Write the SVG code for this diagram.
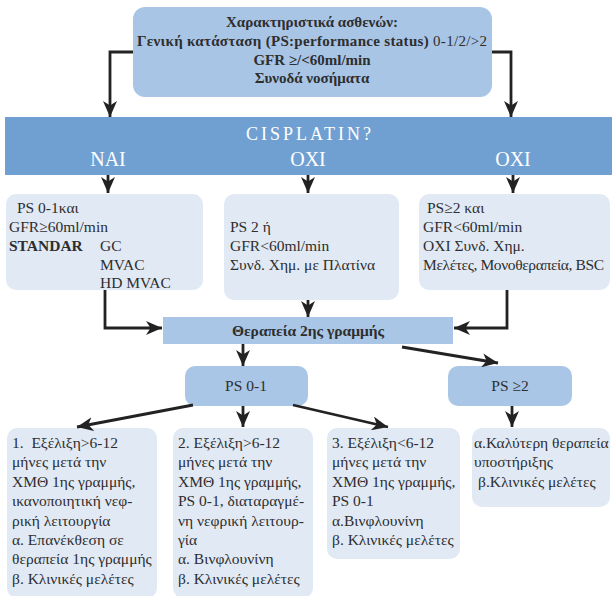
<svg xmlns="http://www.w3.org/2000/svg" width="612" height="596" viewBox="0 0 612 596">
<style>
.t{font-family:"Liberation Serif","DejaVu Serif",serif;font-size:15.5px;fill:#2e2e2e}
.h{font-size:15px}
.b{font-weight:bold}
.top{fill:#a9c5e6}
.lt{fill:#e1e9f5}
.md{fill:#a9c6e6}
.w{font-family:"Liberation Serif","DejaVu Serif",serif;fill:#ffffff}
.c{fill:none;stroke:#222;stroke-width:2.8;marker-end:url(#ah)}
</style>
<defs>
<marker id="ah" markerUnits="userSpaceOnUse" markerWidth="18" markerHeight="14" refX="16" refY="7" orient="auto">
<path d="M0,0 L16,7 L0,14 L4.5,7 z" fill="#222"/>
</marker>
</defs>
<g id="characteristics">
<rect class="top" x="133" y="7" width="359" height="90" rx="12"/>
<text class="t h b" x="312" y="27" text-anchor="middle">Χαρακτηριστικά ασθενών:</text>
<text class="t h" x="312" y="46" text-anchor="middle" textLength="350"><tspan class="b">Γενική κατάσταση (PS:performance status)</tspan> 0-1/2/&gt;2</text>
<text class="t h b" x="312" y="65" text-anchor="middle">GFR ≥/&lt;60ml/min</text>
<text class="t h b" x="312" y="83" text-anchor="middle">Συνοδά νοσήματα</text>
</g>
<g id="cisplatin">
<rect x="5" y="117" width="607" height="58" fill="#70a0d2"/>
<text class="w" x="310" y="140" text-anchor="middle" font-size="18" letter-spacing="3">CISPLATIN?</text>
<text class="w" x="108" y="166" text-anchor="middle" font-size="20">NAI</text>
<text class="w" x="308" y="166" text-anchor="middle" font-size="20">OXI</text>
<text class="w" x="513" y="166" text-anchor="middle" font-size="20">OXI</text>
</g>
<g id="box-nai">
<rect class="lt" x="6" y="194" width="197" height="96" rx="10"/>
<text class="t" x="17" y="213">PS 0-1και</text>
<text class="t" x="9" y="232">GFR≥60ml/min</text>
<text class="t b" x="9" y="251">STANDAR</text>
<text class="t" x="100" y="251">GC</text>
<text class="t" x="100" y="270">MVAC</text>
<text class="t" x="100" y="288">HD MVAC</text>
</g>
<g id="box-oxi1">
<rect class="lt" x="224" y="194" width="175" height="106" rx="10"/>
<text class="t" x="230" y="232">PS 2 ή</text>
<text class="t" x="230" y="251">GFR&lt;60ml/min</text>
<text class="t" x="230" y="270">Συνδ. Χημ. με Πλατίνα</text>
</g>
<g id="box-oxi2">
<rect class="lt" x="419" y="194" width="191" height="96" rx="10"/>
<text class="t" x="427" y="213">PS≥2 και</text>
<text class="t" x="423" y="232">GFR&lt;60ml/min</text>
<text class="t" x="423" y="251">ΟΧΙ Συνδ. Χημ.</text>
<text class="t" x="423" y="270" textLength="181">Μελέτες, Μονοθεραπεία, BSC</text>
</g>
<g id="second-line">
<rect class="md" x="163" y="317" width="290" height="27"/>
<text class="t b" x="308" y="336" text-anchor="middle" font-size="14.5">Θεραπεία 2ης γραμμής</text>
</g>
<g id="ps01">
<rect class="md" x="185" y="366" width="123" height="40" rx="10"/>
<text class="t" x="246" y="391" text-anchor="middle" font-size="16.5">PS 0-1</text>
</g>
<g id="ps2">
<rect class="md" x="448" y="366" width="124" height="40" rx="10"/>
<text class="t" x="510" y="391" text-anchor="middle" font-size="16.5">PS ≥2</text>
</g>
<g id="box1">
<rect class="lt" x="7" y="428" width="150" height="170" rx="10"/>
<text class="t" x="12" y="448" xml:space="preserve">1.  Εξέλιξη&gt;6-12</text>
<text class="t" x="12" y="467">μήνες μετά την</text>
<text class="t" x="12" y="487">ΧΜΘ 1ης γραμμής,</text>
<text class="t" x="12" y="506">ικανοποιητική νεφ-</text>
<text class="t" x="12" y="526">ρική λειτουργία</text>
<text class="t" x="12" y="545">α. Επανέκθεση σε</text>
<text class="t" x="12" y="564">θεραπεία 1ης γραμμής</text>
<text class="t" x="12" y="584">β. Κλινικές μελέτες</text>
</g>
<g id="box2">
<rect class="lt" x="173" y="428" width="140" height="170" rx="10"/>
<text class="t" x="178" y="448">2. Εξέλιξη&gt;6-12</text>
<text class="t" x="178" y="467">μήνες μετά την</text>
<text class="t" x="178" y="487">ΧΜΘ 1ης γραμμής,</text>
<text class="t" x="178" y="506">PS 0-1, διαταραγμέ-</text>
<text class="t" x="178" y="526">νη νεφρική λειτουρ-</text>
<text class="t" x="178" y="545">γία</text>
<text class="t" x="178" y="564">α. Βινφλουνίνη</text>
<text class="t" x="178" y="584">β. Κλινικές μελέτες</text>
</g>
<g id="box3">
<rect class="lt" x="327" y="428" width="133" height="131" rx="10"/>
<text class="t" x="332" y="448">3. Εξέλιξη&lt;6-12</text>
<text class="t" x="332" y="467">μήνες μετά την</text>
<text class="t" x="332" y="487">ΧΜΘ 1ης γραμμής,</text>
<text class="t" x="332" y="506">PS 0-1</text>
<text class="t" x="332" y="526">α.Βινφλουνίνη</text>
<text class="t" x="332" y="545">β. Κλινικές μελέτες</text>
</g>
<g id="box4">
<rect class="lt" x="472" y="428" width="138" height="79" rx="10"/>
<text class="t" x="474" y="448">α.Καλύτερη θεραπεία</text>
<text class="t" x="474" y="467">υποστήριξης</text>
<text class="t" x="478" y="487">β.Κλινικές μελέτες</text>
</g>
<g id="connectors">
<polyline class="c" points="133,52 110,52 110,117"/>
<polyline class="c" points="492,52 511,52 511,117"/>
<line class="c" x1="108" y1="175" x2="108" y2="193"/>
<line class="c" x1="308" y1="175" x2="308" y2="193"/>
<line class="c" x1="513" y1="175" x2="513" y2="193"/>
<polyline class="c" points="105,290 105,328 162,328"/>
<line class="c" x1="308" y1="300" x2="308" y2="317"/>
<polyline class="c" points="507,290 507,328 454,328"/>
<line class="c" x1="243" y1="344" x2="243" y2="366"/>
<line class="c" x1="402" y1="347" x2="498" y2="363"/>
<line class="c" x1="193" y1="405" x2="77" y2="427"/>
<line class="c" x1="243" y1="406" x2="243" y2="427"/>
<line class="c" x1="293" y1="405" x2="388" y2="427"/>
<line class="c" x1="512" y1="406" x2="512" y2="427"/>
</g>
</svg>
